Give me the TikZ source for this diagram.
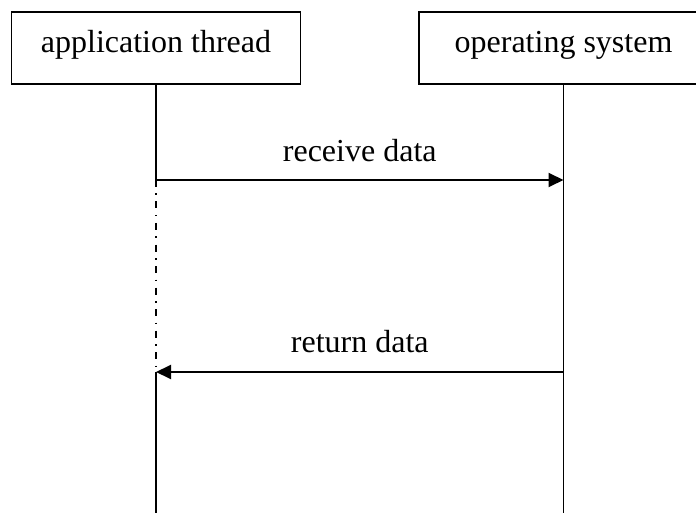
\documentclass[tikz,border=0pt]{standalone}
\usepackage{fontspec}
\setmainfont{Liberation Serif}
\usetikzlibrary{arrows.meta}
\begin{document}
\begin{tikzpicture}[x=1pt,y=-1pt,
  lane/.style={draw, line width=1.9pt, minimum width=289pt, minimum height=72pt,
    inner sep=0pt, text height=18pt, text depth=8pt},
  life/.style={line width=1.9pt},
  waiting/.style={line width=1.6pt, dash pattern=on 7pt off 6.5pt on 1.5pt off 6.5pt},
  msg/.style={line width=1.9pt, -{Triangle[length=15pt,width=14pt]}},
  lbl/.style={anchor=base, inner sep=0pt},
  font=\fontsize{32}{38}\selectfont]
  \useasboundingbox (0,0) rectangle (696,513);

  % participants
  \node[lane] (app) at (156,48) {application thread};
  \node[lane] (os) at (563.5,48) {operating system};

  % message points and lifeline ends
  \coordinate (callout) at (156,180);
  \coordinate (callin) at (563.5,180);
  \coordinate (retout) at (563.5,372);
  \coordinate (retin) at (156,372);
  \coordinate (append) at (156,513);
  \coordinate (osend) at (563.5,513);

  % lifelines
  \draw[life] (app.south) -- (callout);
  \draw[waiting] (callout) -- (retin);
  \draw[life] (retin) -- (append);
  \draw[life] (os.south) -- (osend);

  % messages
  \draw[msg] (callout) -- (callin)
    node[lbl, midway, yshift=18pt] {receive data};
  \draw[msg] (retout) -- (retin)
    node[lbl, midway, yshift=20pt] {return data};
\end{tikzpicture}
\end{document}
